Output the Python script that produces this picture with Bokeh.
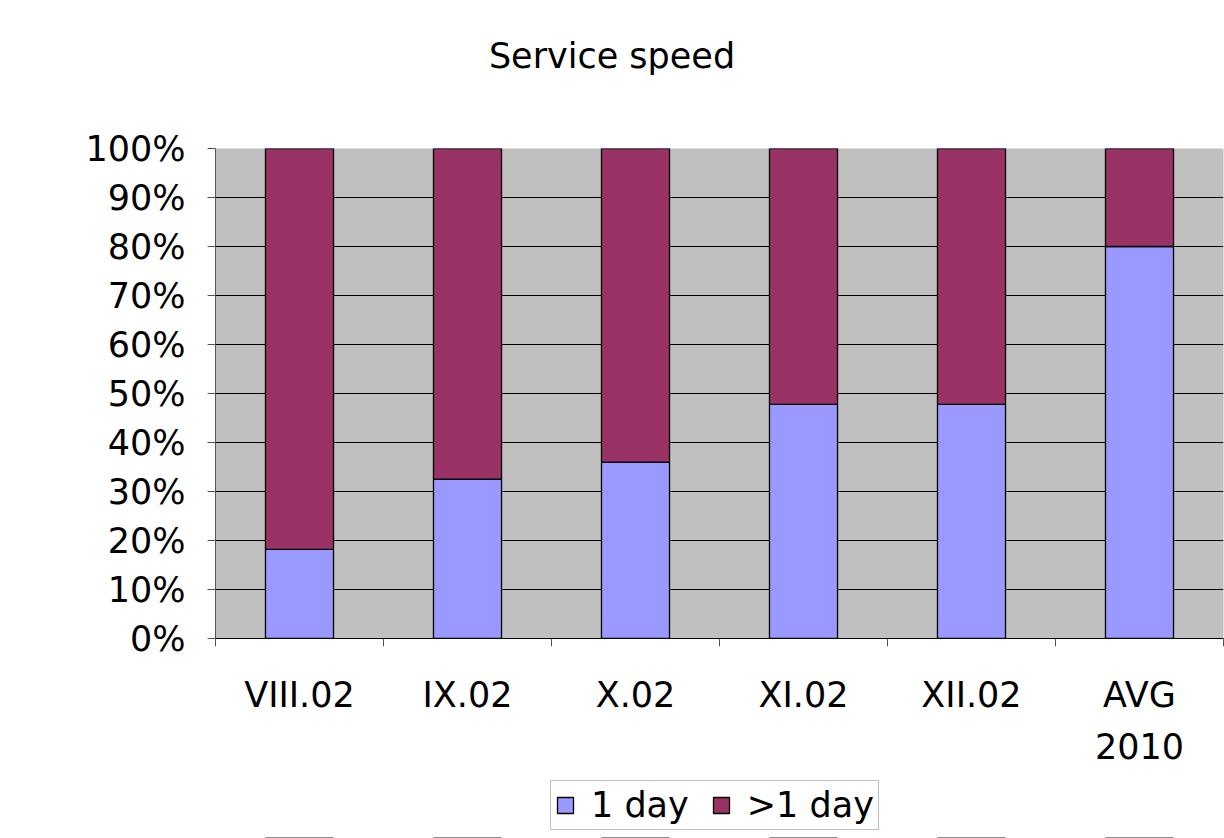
from bokeh.plotting import figure
from bokeh.layouts import column
from bokeh.models import (ColumnDataSource, Range1d, FixedTicker, NumeralTickFormatter,
                          LinearAxis, Legend, LegendItem, Div)
from bokeh.embed import file_html
from bokeh.resources import INLINE

title_text = "Service speed"
categories = ["VIII.02", "IX.02", "X.02", "XI.02", "XII.02", "AVG\n2010"]
one_day = [0.182, 0.325, 0.36, 0.478, 0.478, 0.80]
more_day = [round(1 - v, 3) for v in one_day]
series_names = ["1 day", ">1 day"]
colors = ["#9999FF", "#993366"]
y_ticks = [0.0, 0.1, 0.2, 0.3, 0.4, 0.5, 0.6, 0.7, 0.8, 0.9, 1.0]

FONT = "DejaVu Sans"
FS = "35px"
W = 1224

n = len(categories)
xpos = [i + 0.5 for i in range(n)]
edges = list(range(n + 1))
source = ColumnDataSource(dict(x=xpos, one=one_day, more=more_day))

title_div = Div(text=('<div style="width:1196px;padding-top:35px;padding-left:28px;'
                      'text-align:center;font-family:\'DejaVu Sans\';font-size:35px;'
                      'color:black;line-height:42px;">' + title_text + '</div>'),
                width=W, height=100, margin=0)

p = figure(x_range=Range1d(0, n), y_range=Range1d(0, 1),
           width=W, height=675, output_backend="svg", toolbar_location=None,
           x_axis_location=None, y_axis_location=None,
           min_border_left=215, min_border_right=1, min_border_top=48, min_border_bottom=137)
p.background_fill_color = "#C0C0C0"
p.border_fill_color = "white"
p.outline_line_color = None

p.vbar_stack(["one", "more"], x="x", width=0.405, source=source,
             color=colors, line_color="black", line_width=1.3)

# y axis
yax = LinearAxis(ticker=FixedTicker(ticks=y_ticks),
                 formatter=NumeralTickFormatter(format="0%"))
yax.major_label_text_font = FONT
yax.major_label_text_font_size = FS
yax.major_label_text_color = "black"
yax.major_label_standoff = 22
yax.major_tick_out = 8
yax.major_tick_in = 0
yax.minor_tick_line_color = None
yax.axis_line_color = "#555555"
yax.major_tick_line_color = "#555555"
p.add_layout(yax, "left")

p.ygrid.ticker = FixedTicker(ticks=y_ticks)
p.ygrid.grid_line_color = "black"
p.xgrid.grid_line_color = None

# category axis: labels at centres, minor ticks at category edges
cax = LinearAxis(ticker=FixedTicker(ticks=xpos, minor_ticks=edges),
                 major_label_overrides={x: c for x, c in zip(xpos, categories)})
cax.major_label_text_font = FONT
cax.major_label_text_font_size = FS
cax.major_label_text_color = "black"
cax.major_label_text_line_height = 1.3
cax.major_label_standoff = 28
cax.axis_line_color = "black"
cax.major_tick_line_color = None
cax.minor_tick_line_color = "#555555"
cax.minor_tick_out = 8
cax.minor_tick_in = 0
p.add_layout(cax, "below")

# legend strip (its bars lie outside its visible y range; only the legend shows)
lf = figure(x_range=Range1d(0, n), y_range=Range1d(2, 3), width=W, height=63,
            output_backend="svg", toolbar_location=None,
            x_axis_location=None, y_axis_location=None, min_border=0)
lf.outline_line_color = None
lf.background_fill_color = "white"
lf.border_fill_color = "white"
lf.grid.grid_line_color = None
lrs = lf.vbar_stack(["one", "more"], x="x", width=0.405, source=source,
                    color=colors, line_color="black", line_width=1.3)

legend = Legend(items=[LegendItem(label=series_names[0], renderers=[lrs[0]]),
                       LegendItem(label=series_names[1], renderers=[lrs[1]])],
                orientation="horizontal", location=(335, 8))
legend.label_text_font = FONT
legend.label_text_font_size = FS
legend.label_text_color = "black"
legend.glyph_width = 20
legend.glyph_height = 20
legend.label_standoff = 16
legend.spacing = 22
legend.padding = 4
legend.margin = 0
legend.border_line_color = "#808080"
legend.border_line_width = 1
legend.background_fill_color = "white"
lf.add_layout(legend, "center")

layout = column(title_div, p, lf, spacing=0)
open("out.html", "w").write(file_html(layout, INLINE))
